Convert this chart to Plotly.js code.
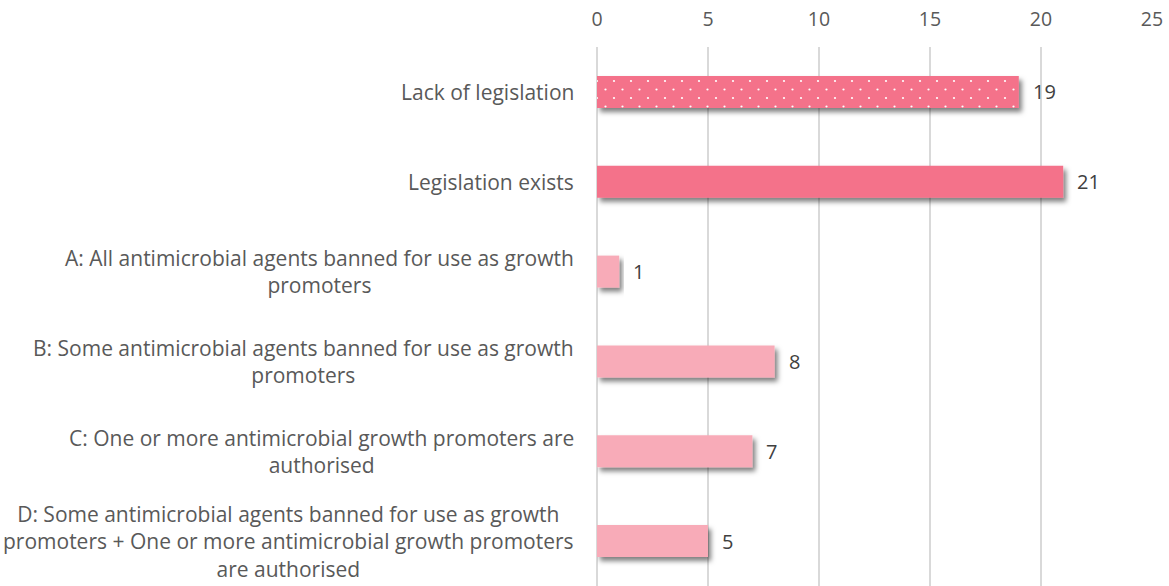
<!DOCTYPE html>
<html>
<head>
<meta charset="utf-8">
<script src="https://cdn.plot.ly/plotly-3.0.1.min.js"></script>
<style>
html,body{margin:0;padding:0;background:#fff;}
#chart{width:1169px;height:586px;}
</style>
</head>
<body>
<div id="chart"></div>
<script>
const categories = [
  "Lack of legislation",
  "Legislation exists",
  "A: All antimicrobial agents banned for use as growth<br>promoters",
  "B: Some antimicrobial agents banned for use as growth<br>promoters",
  "C: One or more antimicrobial growth promoters are<br>authorised",
  "D: Some antimicrobial agents banned for use as growth<br>promoters + One or more antimicrobial growth promoters<br>are authorised"
];
const values = [19, 21, 1, 8, 7, 5];
const barColors = ["#F4728A", "#F4728A", "#F8ABB8", "#F8ABB8", "#F8ABB8", "#F8ABB8"];
const patternShapes = [".", "", "", "", "", ""];
const xTicks = [0, 5, 10, 15, 20, 25];

const FONT = "'Open Sans', 'Noto Sans', sans-serif";
const keys = categories.map((c, i) => "c" + i);

const trace = {
  type: "bar",
  orientation: "h",
  x: values,
  y: keys,
  marker: {
    color: barColors,
    line: {width: 0},
    pattern: {shape: patternShapes, fgcolor: "#ffffff", fgopacity: 1, size: 17, solidity: 0.01, fillmode: "overlay"}
  },
  hoverinfo: "none"
};

const annotations = [];
categories.forEach((c, i) => {
  annotations.push({
    x: 0, y: keys[i], xref: "x", yref: "y",
    text: c, showarrow: false, xanchor: "right", align: "center",
    xshift: -21, font: {family: FONT, size: 21, color: "#595959"}
  });
  annotations.push({
    x: values[i], y: keys[i], xref: "x", yref: "y",
    text: String(values[i]), showarrow: false, xanchor: "left",
    xshift: 12, font: {family: FONT, size: 20, color: "#404040"}
  });
});

const layout = {
  width: 1169, height: 586,
  margin: {l: 597, r: 17, t: 47, b: 0, pad: 0},
  paper_bgcolor: "#ffffff", plot_bgcolor: "#ffffff",
  showlegend: false,
  bargap: 0.644,
  xaxis: {
    side: "top", range: [0, 25], tickvals: xTicks, ticktext: xTicks.map(String),
    showgrid: true, gridcolor: "#D9D9D9", gridwidth: 1.5,
    zeroline: true, zerolinecolor: "#D9D9D9", zerolinewidth: 1.5,
    showline: false, ticks: "", ticklabelstandoff: 16,
    tickfont: {family: FONT, size: 19.5, color: "#595959"}, fixedrange: true
  },
  yaxis: {
    type: "category", autorange: "reversed", showticklabels: false,
    showgrid: false, zeroline: false, showline: false, ticks: "", fixedrange: true
  },
  annotations: annotations
};

Plotly.newPlot("chart", [trace], layout, {displayModeBar: false, staticPlot: true}).then(gd => {
  const ns = "http://www.w3.org/2000/svg";
  // stagger the dot pattern (extra dots at the tile corners), white dots
  gd.querySelectorAll("pattern").forEach(pat => {
    const c = pat.querySelector("circle");
    if (!c) return;
    const w = parseFloat(pat.getAttribute("width")) || 17;
    const h = parseFloat(pat.getAttribute("height")) || 17;
    const style = "fill:#ffffff;fill-opacity:1;stroke:none;";
    c.setAttribute("r", "1.1");
    c.setAttribute("style", style);
    [[0, 0], [w, 0], [0, h], [w, h]].forEach(([cx, cy]) => {
      const n = c.cloneNode(true);
      n.setAttribute("cx", cx); n.setAttribute("cy", cy);
      n.setAttribute("style", style);
      c.parentNode.appendChild(n);
    });
  });
  const svg = gd.querySelector("svg.main-svg");
  let defs = svg.querySelector("defs");
  if (!defs) { defs = document.createElementNS(ns, "defs"); svg.insertBefore(defs, svg.firstChild); }
  const f = document.createElementNS(ns, "filter");
  f.setAttribute("id", "barshadow");
  f.setAttribute("x", "-10%"); f.setAttribute("y", "-30%");
  f.setAttribute("width", "130%"); f.setAttribute("height", "180%");
  const ds = document.createElementNS(ns, "feDropShadow");
  ds.setAttribute("dx", "3"); ds.setAttribute("dy", "4");
  ds.setAttribute("stdDeviation", "2.4");
  ds.setAttribute("flood-color", "#000"); ds.setAttribute("flood-opacity", "0.5");
  f.appendChild(ds); defs.appendChild(f);
  gd.querySelectorAll(".barlayer .point").forEach(p => p.setAttribute("filter", "url(#barshadow)"));
});
</script>
</body>
</html>
